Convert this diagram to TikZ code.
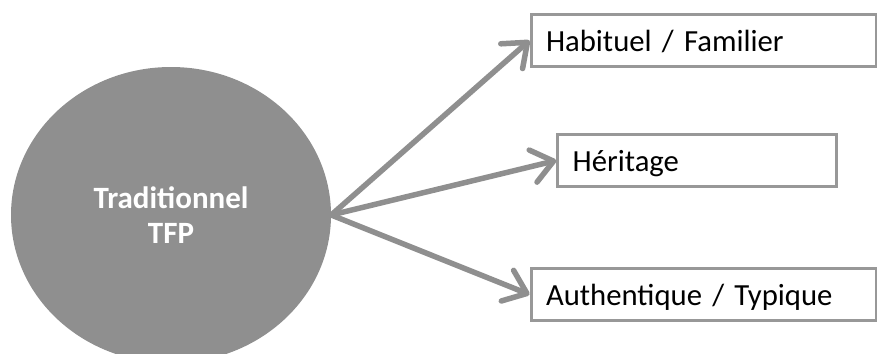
\documentclass[tikz,border=0pt]{standalone}
\usepackage{fontspec}
\setmainfont{Carlito}
\usetikzlibrary{shapes.geometric,arrows.meta}
\definecolor{tfpgray}{RGB}{143,143,143}
\definecolor{boxgray}{RGB}{152,152,152}
\begin{document}
\begin{tikzpicture}[x=1pt,y=-1pt,
  label box/.style={draw=boxgray, line width=3pt, anchor=north west, minimum height=52.4pt,
    text height=22pt, text depth=0pt, inner xsep=15pt, align=left, font=\fontsize{30.7}{36}\selectfont},
  tfp arrow/.style={draw=tfpgray, line width=5.5pt, -{Straight Barb[length=21pt,width=33pt,round]}}]
\useasboundingbox (0,0) rectangle (877,353);
%\draw[help lines] (0,0) grid[step=50] (877,353);
\node[ellipse, fill=tfpgray, minimum width=320pt, minimum height=296pt, inner sep=0pt, text=white,
  align=center, font=\bfseries\fontsize{31}{35}\selectfont] (trad) at (171,215) {Traditionnel\\TFP};
\node[label box, text width=315pt] (habit) at (529.5,12.8) {Habituel / Familier};
\node[label box, text width=249pt] (herit) at (556.2,132.8) {Héritage};
\node[label box, text width=315pt] (authen) at (529.5,266.8) {Authentique / Typique};
\draw[tfp arrow] (trad.east) -- (habit.west);
\draw[tfp arrow] (trad.east) -- (herit.west);
\draw[tfp arrow] (trad.east) -- (authen.west);
\end{tikzpicture}
\end{document}
